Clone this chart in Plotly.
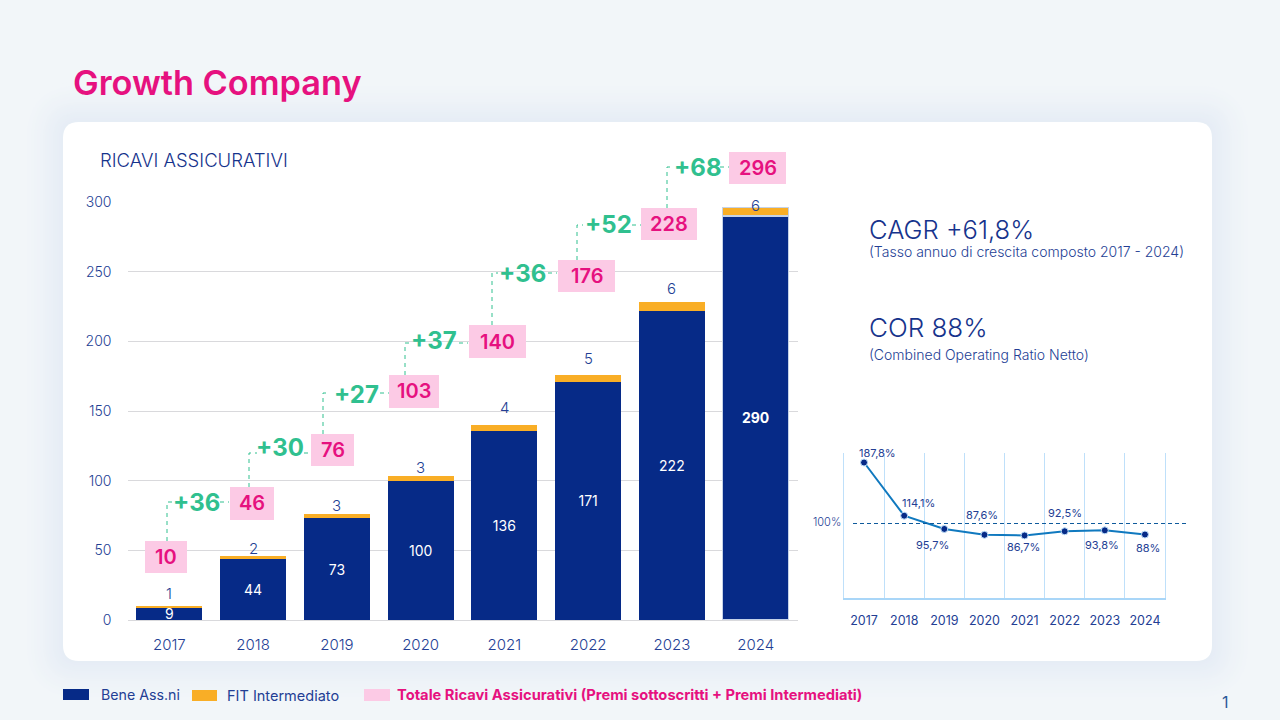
##
## Growth Company slide: stacked revenue bars plus COR line
##
import plotly.graph_objects as go

W, H = 1280, 720
FONT = "Inter"
NAVY = "#062A87"
BLUE_TXT = "#233E94"
ORANGE = "#F9AE26"
PINK = "#E6117F"
PINK_BG = "#FCCAE5"
GREEN = "#30C08F"
BG = (242, 246, 249)
SHADOW = (229, 236, 245)

years = ["2017", "2018", "2019", "2020", "2021", "2022", "2023", "2024"]
bene = [9, 44, 73, 100, 136, 171, 222, 290]
fit = [1, 2, 3, 3, 4, 5, 6, 6]
totals = [10, 46, 76, 103, 140, 176, 228, 296]
deltas = [36, 30, 27, 37, 36, 52, 68]
cor = [187.8, 114.1, 95.7, 87.6, 86.7, 92.5, 93.8, 88]
cor_labels = ["187,8%", "114,1%", "95,7%", "87,6%", "86,7%", "92,5%", "93,8%", "88%"]

# layout only, in slide pixels
fit_shift = [13, 7, 9, 9, 17, 16, 14, 2]
boxes = [(145, 187, 541, 573), (230, 274, 487, 520), (311, 354, 434, 466), (389, 439, 375, 408),
         (469, 526, 325, 358), (558, 615, 260, 292), (641, 697, 208, 240), (729, 786, 152, 184)]
green_pos = [(196, 502), (280, 447), (356, 394), (434, 340), (522, 273), (608, 224), (698, 167)]
steps = [(167, 502, 174, 220, 229), (249, 453, 257, 304, 311), (323, 393, 328, 380, 389),
         (405, 343, 411, 459, 468), (492, 273, 498, 548, 557), (577, 225, 583, 632, 641),
         (667, 167, 673, 720, 729)]
cor_shift = [(13, 10), (14, 13), (-12, -16), (-2, 20), (-1, -12), (0, 18), (-3, -15), (3, -13)]
shadow_steps = [40, 36, 32, 29, 26, 23, 20, 18, 16, 14, 12, 10, 8, 6, 4, 2]


def px(x):
    return x / W


def py(y):
    return 1 - y / H


def rounded(x0, y0, x1, y1, r):
    return (f"M {px(x0 + r)} {py(y0)} L {px(x1 - r)} {py(y0)} Q {px(x1)} {py(y0)} {px(x1)} {py(y0 + r)} "
            f"L {px(x1)} {py(y1 - r)} Q {px(x1)} {py(y1)} {px(x1 - r)} {py(y1)} "
            f"L {px(x0 + r)} {py(y1)} Q {px(x0)} {py(y1)} {px(x0)} {py(y1 - r)} "
            f"L {px(x0)} {py(y0 + r)} Q {px(x0)} {py(y0)} {px(x0 + r)} {py(y0)} Z")


def label(x, y, text, size, color=BLUE_TXT, anchor="left", weight=None):
    font = dict(family=FONT, size=size, color=color)
    if weight:
        font["weight"] = weight
    return dict(xref="paper", yref="paper", x=px(x), y=py(y), text=text, showarrow=False, borderpad=0,
                borderwidth=0, xanchor=anchor, yanchor="middle", font=font)


def rect(x0, x1, y0, y1, color):
    return dict(type="rect", xref="paper", yref="paper", x0=px(x0), x1=px(x1), y0=py(y0), y1=py(y1),
                fillcolor=color, line_width=0, layer="above")


fig = go.Figure()

edge = dict(color=["rgba(0,0,0,0)"] * 7 + ["#C4D2E8"], width=[0] * 7 + [1.2])
fig.add_trace(go.Bar(x=years, y=bene, marker_color=NAVY, width=0.79, text=[str(v) for v in bene[:-1]] + [f"<b>{bene[-1]}</b>"],
                     textposition="inside", insidetextanchor="middle", constraintext="none",
                     textangle=0, textfont=dict(family=FONT, size=14, color="white"),
                     marker_line=edge, hoverinfo="skip"))
fig.add_trace(go.Bar(x=years, y=fit, marker_color=ORANGE, width=0.79, marker_line=edge, hoverinfo="skip"))
fig.add_trace(go.Scatter(x=years, y=cor, xaxis="x2", yaxis="y2", mode="lines+markers",
                         line=dict(color="#1079BF", width=2),
                         marker=dict(color=NAVY, size=7, line=dict(color="#BFE0FA", width=1))))

shapes = []
# soft card shadow, opaque rings so the tint stays even
for grow in shadow_steps:
    t = (1 - grow / 42) ** 1.4
    tint = [round(a + (b - a) * t) for a, b in zip(BG, SHADOW)]
    shapes.append(dict(type="path", xref="paper", yref="paper", layer="below", line_width=0,
                       path=rounded(63 - grow, 122 - grow, 1212 + grow, 661 + grow, 16 + grow),
                       fillcolor=f"rgb({tint[0]},{tint[1]},{tint[2]})"))
shapes.append(dict(type="path", xref="paper", yref="paper", layer="below", line_width=0,
                   path=rounded(63, 122, 1212, 661, 16), fillcolor="white"))
# pink total boxes
for b in boxes:
    shapes.append(rect(b[0], b[1], b[2], b[3], PINK_BG))
# dashed connectors
dash = dict(color=GREEN, width=1, dash="4px,4px")
for i, s in enumerate(steps):
    top = boxes[i][2]
    shapes.append(dict(type="path", xref="paper", yref="paper", layer="above", line=dash,
                       path=f"M {px(s[0])} {py(top)} L {px(s[0])} {py(s[1])} L {px(s[2])} {py(s[1])}"))
    shapes.append(dict(type="line", xref="paper", yref="paper", layer="above", line=dash,
                       x0=px(s[3]), x1=px(s[4]), y0=py(s[1]), y1=py(s[1])))
# 100% reference of the small chart
shapes.append(dict(type="line", xref="paper", yref="paper", layer="above", x0=px(853), x1=px(1188),
                   y0=py(523.5), y1=py(523.5), line=dict(color="#0E5A9C", width=1, dash="4px,3px")))
# legend swatches
shapes += [rect(63, 89, 689, 700, NAVY), rect(192, 217, 690, 701, ORANGE), rect(364, 390, 689, 701, PINK_BG)]

annotations = [
    label(73, 82, "Growth Company", 34.3, PINK, weight=600),
    label(100, 160, "RICAVI ASSICURATIVI", 18.5, "#16338C", weight=300),
    label(869, 229, "CAGR +61,8%", 25.5, "#16338C", weight=300),
    label(869, 251, "(Tasso annuo di crescita composto 2017 - 2024)", 14, weight=300),
    label(869, 328, "COR 88%", 26, "#16338C", weight=300),
    label(869, 354, "(Combined Operating Ratio Netto)", 14, weight=300),
    label(813, 522, "100%", 11, weight=300),
    label(101, 694, "Bene Ass.ni", 14.2),
    label(227, 695, "FIT Intermediato", 14.5),
    label(397, 695, "Totale Ricavi Assicurativi (Premi sottoscritti + Premi Intermediati)", 14.7, PINK, weight=700),
    label(1225, 702, "1", 16, "#2A5A9A", anchor="center"),
]
for i, v in enumerate(fit):
    annotations.append(dict(x=i, y=totals[i], xref="x", yref="y", text=str(v), showarrow=False,
                            yshift=fit_shift[i], yanchor="middle", font=dict(family=FONT, size=15, color=BLUE_TXT, weight=300)))
for i, b in enumerate(boxes):
    annotations.append(label((b[0] + b[1]) / 2, (b[2] + b[3]) / 2, str(totals[i]), 20, PINK, "center", 600))
for i, d in enumerate(deltas):
    annotations.append(label(green_pos[i][0], green_pos[i][1], f"+{d}", 24, GREEN, "center", 700))
for i, t in enumerate(cor_labels):
    annotations.append(dict(x=i, y=cor[i], xref="x2", yref="y2", text=t, showarrow=False,
                            xshift=cor_shift[i][0], yshift=cor_shift[i][1],
                            font=dict(family=FONT, size=11, color=BLUE_TXT)))

fig.update_layout(
    width=W, height=H, margin=dict(l=0, r=0, t=0, b=0, autoexpand=False), autosize=False,
    paper_bgcolor=f"rgb({BG[0]},{BG[1]},{BG[2]})", plot_bgcolor="rgba(0,0,0,0)",
    barmode="stack", showlegend=False, shapes=shapes, annotations=annotations,
    font=dict(family=FONT, color=BLUE_TXT),
    xaxis=dict(domain=[px(127.5), px(797.5)], type="category", range=[-0.5, 7.5], showgrid=False,
               showline=True, linecolor="#D9D9DC", linewidth=1, ticks="", ticklabelstandoff=11,
               tickfont=dict(family=FONT, size=15, color=BLUE_TXT, weight=300)),
    yaxis=dict(domain=[py(620), py(202)], range=[0, 300], tickvals=[0, 50, 100, 150, 200, 250, 300],
               gridcolor="#D9D9DC", gridwidth=1, zeroline=False, ticks="", ticklabelstandoff=15,
               tickfont=dict(family=FONT, size=14, color=BLUE_TXT, weight=300)),
    xaxis2=dict(domain=[px(844), px(1165)], type="category", anchor="y2", range=[-0.5, 7.5],
                tickson="boundaries", showgrid=True, gridcolor="#BFE0FA", gridwidth=1,
                showline=True, linecolor="#A9D6F8", linewidth=1.5, ticks="", ticklabelstandoff=10,
                tickfont=dict(family=FONT, size=12.5, color=BLUE_TXT)),
    yaxis2=dict(domain=[py(598), py(453)], anchor="x2", range=[0, 201], showgrid=False, zeroline=False,
                showticklabels=False, ticks="", showline=True, mirror=True, linecolor="#BFE0FA", linewidth=1),
)

fig.write_html("out.html", config=dict(displayModeBar=False),
               post_script="document.body.style.margin='0';document.documentElement.style.overflow='hidden';")
